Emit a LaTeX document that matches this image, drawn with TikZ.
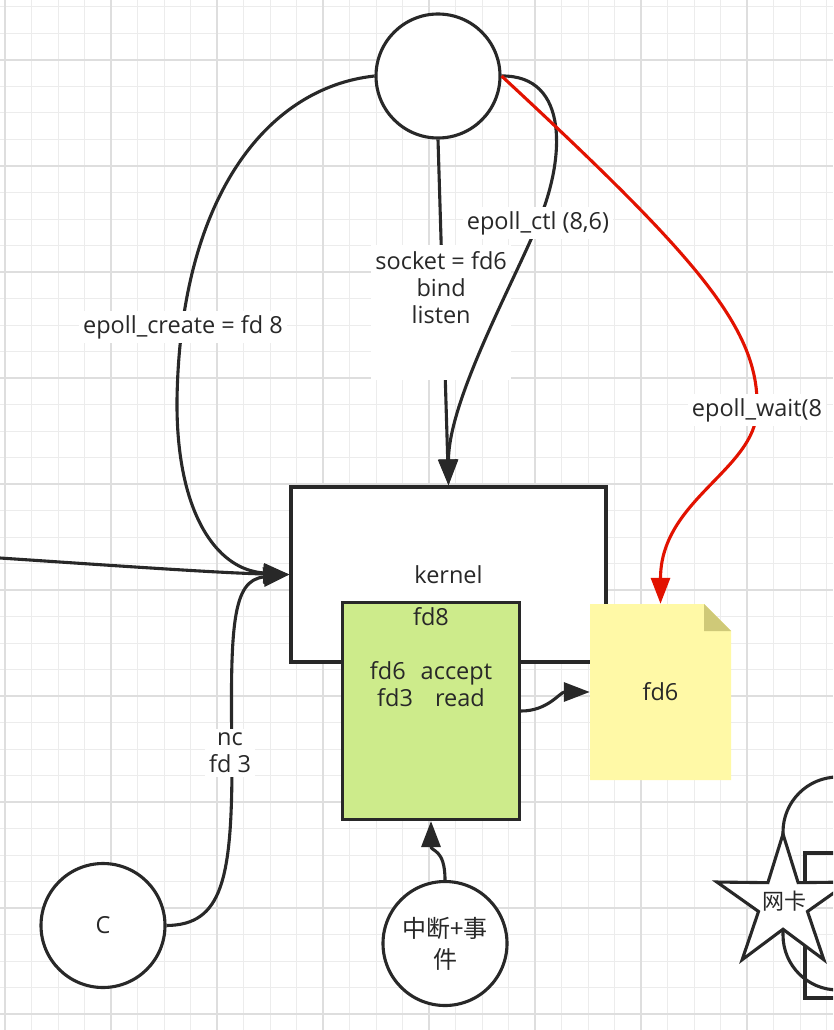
\documentclass[tikz,border=0pt]{standalone}
\usepackage{fontspec}
\setmainfont{Open Sans}
\newfontfamily\cjk{Noto Sans CJK SC}
\usetikzlibrary{arrows.meta,shapes.geometric}
\definecolor{ink}{RGB}{40,40,40}
\definecolor{gridminor}{RGB}{236,236,236}
\definecolor{gridmajor}{RGB}{222,222,222}
\definecolor{wirered}{RGB}{226,18,0}
\definecolor{greenfill}{RGB}{205,235,139}
\definecolor{notefill}{RGB}{255,249,166}
\definecolor{notefold}{RGB}{207,201,120}

\begin{document}
\begin{tikzpicture}[x=1pt,y=-1pt,
  every node/.style={font=\fontsize{23.5}{27}\selectfont, text=ink},
  shapeline/.style={draw=ink, line width=3.1pt},
  ring/.style={shapeline, circle, fill=white, minimum size=124pt, inner sep=0pt},
  wire/.style={draw=ink, line width=3.1pt, -{Triangle[length=26pt,width=19pt]}},
  redwire/.style={draw=wirered, line width=3.1pt, -{Triangle[length=26pt,width=19pt]}},
  tag/.style={fill=white, inner sep=4pt, align=center},
  cjktext/.style={font=\cjk\fontsize{24}{31}\selectfont},
]
\useasboundingbox (0,0) rectangle (833,1030);
\clip (0,0) rectangle (833,1030);

% paper grid
\fill[white] (0,0) rectangle (833,1030);
\foreach \i in {0,...,31}
  \draw[gridminor, line width=1pt] ({5+26.5*\i},0) -- ({5+26.5*\i},1030);
\foreach \j in {0,...,38}
  \draw[gridminor, line width=1pt] (0,{7+26.5*\j}) -- (833,{7+26.5*\j});
\foreach \i in {0,...,7}
  \draw[gridmajor, line width=1.3pt] ({5+106*\i},0) -- ({5+106*\i},1030);
\foreach \j in {0,...,9}
  \draw[gridmajor, line width=1.3pt] (0,{60+106*\j}) -- (833,{60+106*\j});

% shapes running off the right edge
\draw[shapeline, rounded corners=55pt] (783,777) rectangle (905,990);
\draw[shapeline] (805,853) rectangle (900,998);
\node[star, star points=5, star point ratio=2.7, minimum size=139pt,
      shapeline, fill=white, inner sep=0pt] (nic) at (783,903.5) {};
\node[cjktext, font=\cjk\fontsize{22}{27}\selectfont] (niclabel) at (784,901) {网卡};

% kernel and its structures
\node[shapeline, rectangle, fill=white, minimum width=315pt, minimum height=175pt]
  (kernel) at (448.5,574.5) {kernel};
\node[shapeline, rectangle, fill=greenfill, minimum width=177pt, minimum height=217pt]
  (fdset) at (431,711) {};
\node[align=center, inner sep=0pt, anchor=north] (fdlist) at (431,607)
  {fd8\\[27pt]fd6\hspace{15pt}accept\\fd3\hspace{22pt}read};
\node[minimum width=141pt, minimum height=176pt, inner sep=0pt,
  path picture={
    \fill[notefill] (path picture bounding box.south west)
      -- (path picture bounding box.north west)
      -- ([xshift=-27pt]path picture bounding box.north east)
      -- ([yshift=-27pt]path picture bounding box.north east)
      -- (path picture bounding box.south east) -- cycle;
    \fill[notefold] ([xshift=-27pt]path picture bounding box.north east)
      -- ([xshift=-27pt,yshift=-27pt]path picture bounding box.north east)
      -- ([yshift=-27pt]path picture bounding box.north east) -- cycle;
  }] (note) at (660.5,692) {fd6};

% processes
\node[ring] (top) at (438,76) {};
\node[ring] (client) at (103,925.5) {C};
\node[ring, align=center, cjktext] (irq) at (445,943.5) {中断+事\\件};

% calls into the kernel
\coordinate (leftin) at (0,558);
\draw[wire] (top.west) .. controls (265,88) and (180,200) .. (177,400)
  .. controls (176,510) and (215,570) .. (kernel.west);
\draw[wire] (leftin) .. controls (120,566) and (220,573) .. (kernel.west);
\draw[wire] (client.east) .. controls (222,925) and (232,880) .. (232,760)
  .. controls (230,625) and (232,580) .. (kernel.west);
\draw[wire] (top.south) -- node[tag, pos=0.3, anchor=north, inner ysep=7pt] (sockettag)
  {socket = fd6\\bind\\listen\\[22pt]\mbox{}} (kernel.north);
\draw[wire] (top.east) .. controls (570,75) and (565,160) .. (538,223)
  .. controls (515,280) and (448.5,400) .. (kernel.north);
\draw[redwire] (top.east) .. controls (700,260) and (760,330) .. (757,410)
  .. controls (755,470) and (660.5,500) .. (note.north);
\draw[wire] (fdset.east) .. controls (548,711) and (560,692) .. (note.west);
\draw[wire] (irq.north) .. controls (445,848) and (431,852) .. (fdset.south);

% call labels
\node[tag] (createtag) at (183,327) {epoll\_create = fd 8};
\node[tag] (nctag) at (230,753) {nc\\fd 3};
\node[tag] (ctltag) at (538,223) {epoll\_ctl (8,6)};
\node[tag] (waittag) at (757,410) {epoll\_wait(8};
\end{tikzpicture}
\end{document}
